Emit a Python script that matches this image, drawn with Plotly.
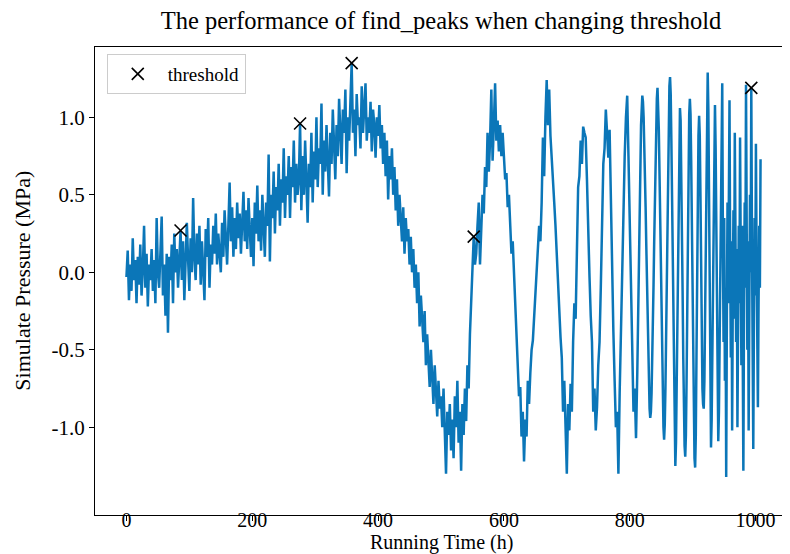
import plotly.graph_objects as go

# simulated pressure: every 2 h from 0 h to 818 h
pressure_coarse = [
    -0.03, 0.14, -0.18, 0.05, -0.12, 0.22, -0.05, 0.08, -0.2, 0.1,
    -0.08, 0.18, -0.15, 0.02, 0.3, -0.1, 0.12, -0.22, 0.05, -0.05,
    0.15, -0.12, 0.08, -0.2, 0.35, 0.0, -0.1, 0.22, 0.36, -0.15,
    0.05, -0.28, 0.12, -0.39, 0.1, -0.05, 0.18, -0.2, 0.25, 0.0,
    0.15, -0.1, 0.05, 0.27, -0.05, 0.2, -0.18, 0.1, 0.32, 0.08,
    -0.12, 0.22, 0.0, 0.48, 0.1, -0.05, 0.25, 0.05, 0.3, -0.08,
    0.2, 0.02, -0.18, 0.28, 0.1, 0.35, -0.1, 0.18, 0.05, 0.3,
    0.12, 0.38, 0.05, 0.25, 0.15, 0.0, 0.32, 0.1, 0.4, 0.18,
    0.05, 0.3, 0.58, 0.2, 0.42, 0.1, 0.35, 0.15, 0.45, 0.22,
    0.38, 0.12, 0.3, 0.52, 0.2, 0.4, 0.15, 0.48, 0.28, 0.1,
    0.35, 0.04, 0.45, 0.25, 0.56, 0.2, 0.4, 0.14, 0.5, 0.3,
    0.1, 0.45, 0.3, 0.76, 0.07, 0.5, 0.35, 0.65, 0.25, 0.55,
    0.4, 0.7, 0.3, 0.6, 0.45, 0.8, 0.35, 0.62, 0.5, 0.75,
    0.35, 0.68, 0.55, 0.85, 0.45, 0.7, 0.5, 0.6, 0.96, 0.4,
    0.75, 0.5, 0.85, 0.6, 0.32, 0.7, 0.55, 0.9, 0.45, 0.78,
    0.6, 1.0, 0.55, 0.8, 0.7, 1.09, 0.5, 0.85, 0.65, 0.95,
    0.75, 0.49, 0.9, 0.7, 1.05, 0.8, 0.6, 0.95, 0.75, 1.12,
    0.85, 0.7, 1.05, 0.9, 1.18, 0.64, 1.0, 0.85, 1.1, 1.35,
    0.9, 1.05, 0.75, 1.15, 0.95, 1.0, 0.8, 1.2, 0.9, 1.05,
    1.22, 0.85, 1.0, 0.9, 1.1, 0.78, 1.05, 0.95, 0.74, 1.0,
    0.88, 1.08, 0.8, 0.95, 0.7, 0.9, 0.62, 0.85, 0.47, 0.75,
    0.6, 0.8, 0.5, 0.68, 0.4, 0.6, 0.3, 0.5, 0.35, 0.2,
    0.42, 0.12, 0.35, 0.2, 0.28, 0.05, 0.23, 0.0, 0.15, -0.1,
    0.05, -0.2, 0.0, -0.35, -0.15, -0.3, -0.45, -0.25, -0.6, -0.4,
    -0.55, -0.74, -0.5, -0.65, -0.85, -0.6, -0.8, -0.93, -0.7, -0.88,
    -0.8, -1.0, -0.75, -1.1, -1.3, -0.9, -1.05, -0.85, -1.15, -0.95,
    -1.2, -0.8, -1.0, -0.7, -1.1, -0.9, -1.28, -0.85, -1.05, -0.75,
    -0.96, -0.6, -0.75, -0.4, -0.15, 0.0, 0.23, 0.05, 0.12, 0.3,
    0.45, 0.05, 0.35, 0.5, 0.38, 0.68, 0.55, 0.9, 0.65, 0.85,
    1.18, 0.72, 0.95, 1.22, 0.85, 0.98, 0.78, 0.95, 0.75, 0.9,
    0.75, 0.6, 0.64, 0.42, 0.5, 0.3, 0.12, 0.2, 0.0, -0.2,
    -0.44, -0.6, -0.8, -0.74, -1.06, -0.9, -1.22, -0.95, -1.06, -0.7,
    -0.85, -0.65, -0.5, -0.44, -0.3, -0.1, 0.0, 0.1, 0.3, 0.2,
    0.45, 0.87, 0.62, 1.0, 1.24, 0.95, 1.18, 0.88, 0.75, 0.64,
    0.45, 0.3, 0.1, -0.05, -0.2, -0.42, -0.55, -0.9, -0.7, -1.0,
    -1.3, -0.85, -1.02, -0.72, -0.9, -0.45, -0.2, -0.3, 0.2, 0.55,
    0.62, 0.85, 0.7, 0.94, 0.9, 0.87, 0.6, 0.2, -0.02, -0.28,
    -0.45, -0.9, -0.75, -1.02, -0.87, -0.6, -0.45, -0.1, 0.4, 0.7,
    0.8, 1.05, 0.9, 0.74, 0.92, 0.42, -0.05, -0.38, -0.7, -1.0,
    -0.9, -1.3, -0.78, -0.34, 0.0, 0.52, 0.75, 1.0, 1.14, 0.75,
    0.35, 0.0, -0.6, -0.9, -0.75, -1.07, -0.65, 0.0, 0.6, 0.95,
]

# denser sampling over the fast oscillation at the end (820 h onwards)
pressure_fine = [
    1.14, 1.1, 1.0, 0.85, 0.65, 0.42, 0.18, -0.08, -0.35, -0.58, -0.75, -0.88,
    -0.94, -0.9, -0.78, -0.6, -0.35, -0.08, 0.2, 0.48, 0.75, 0.95, 1.12, 1.19,
    1.1, 0.92, 0.65, 0.35, 0.02, -0.32, -0.62, -0.85, -1.0, -1.08,
    -0.98, -0.75, -0.42, -0.05, 0.35, 0.72, 1.0, 1.2, 1.26,
    1.15, 0.85, 0.45, 0.0, -0.45, -0.85, -1.12, -1.25,
    -1.1, -0.72, -0.25, 0.25, 0.68, 0.95, 1.06,
    0.98, 0.7, 0.3, -0.12, -0.55, -0.9, -1.12, -1.19,
    -1.05, -0.7, -0.2, 0.3, 0.75, 1.02, 1.12,
    1.02, 0.72, 0.3, -0.15, -0.6, -0.98, -1.2, -1.26,
    -1.05, -0.55, 0.0, 0.5, 0.88, 1.01,
    0.88, 0.5, 0.02, -0.45, -0.75, -0.85, -0.88,
    -0.7, -0.25, 0.3, 0.8, 1.15, 1.29,
    1.05, 0.5, -0.15, -0.75, -1.13,
    -0.95, -0.45, 0.1, 0.62, 0.98, 1.08,
    0.8, 0.25, -0.38, -0.88, -1.09,
    -0.9, -0.4, 0.2, 0.75, 1.1,
    1.22, 0.2, -0.45, 0.35, -0.7, -0.1, -1.32, -0.3, 0.45, -0.2,
    0.6, 1.11, 0.1, -0.55, 0.2, -1.02, -0.15, 0.4, -0.3, 0.9,
    0.25, -0.45, 0.15, -1.0, -0.35, 0.3, -0.2, 0.87, 0.1, -0.6,
    0.3, -0.5, -1.28, -0.2, 0.45, -0.1, 1.21, 0.3, -0.5, 0.2,
    -1.02, -0.25, 0.5, 0.0, 1.19, 0.2, -0.4, -1.14, -0.3, 0.35,
    -0.15, 0.83, 0.1, -0.5, -0.87, -0.2, 0.3, -0.1, 0.73,
]

hours_coarse = list(range(0, 2 * len(pressure_coarse), 2))
hours_fine = [round(820 + 1.05 * k, 2) for k in range(len(pressure_fine))]
hours = hours_coarse + hours_fine
pressure = pressure_coarse + pressure_fine

# sample indices where find_peaks reported a peak
peak_idx = [43, 138, 179, 276, 575]
peak_hours = [hours[i] for i in peak_idx]
peak_values = [pressure[i] for i in peak_idx]

y_ticks = [-1.0, -0.5, 0.0, 0.5, 1.0]
x_ticks = [0, 200, 400, 600, 800, 1000]

font = "Liberation Serif, Times New Roman, serif"

fig = go.Figure()
fig.add_trace(go.Scatter(
    x=hours, y=pressure, mode="lines", showlegend=False,
    line=dict(color="#0b76b8", width=2.5),
))
fig.add_trace(go.Scatter(
    x=peak_hours, y=peak_values, mode="markers", name="threshold",
    marker=dict(symbol="x-thin", size=12, line=dict(color="black", width=1.6)),
))

axis_style = dict(
    showline=True, mirror=True, linecolor="black", linewidth=1.3,
    ticks="outside", ticklen=5, tickcolor="black", showgrid=False, zeroline=False,
    automargin=False,
)

fig.update_xaxes(
    range=[-50, 1050], tickvals=x_ticks, ticklabelstandoff=-18,
    tickfont=dict(family=font, size=20, color="black"), **axis_style,
)
fig.update_yaxes(
    range=[-1.566, 1.454], tickvals=y_ticks,
    ticktext=[f"{v:.1f}" for v in y_ticks],
    tickfont=dict(family=font, size=21, color="black"), **axis_style,
)

fig.add_annotation(
    text="Running Time (h)", xref="paper", yref="paper", x=0.5, y=-0.058,
    xanchor="center", yanchor="middle", showarrow=False,
    font=dict(family=font, size=20, color="black"),
)
fig.add_annotation(
    text="Simulate Pressure (MPa)", xref="paper", yref="paper", x=-0.106, y=0.5,
    xanchor="center", yanchor="middle", textangle=-90, showarrow=False,
    font=dict(family=font, size=22, color="black"),
)

# the page body adds an 8 px offset, so the figure is 8 px smaller than the window
fig.update_layout(
    width=782, height=546,
    margin=dict(l=87, r=3, t=39, b=39),
    paper_bgcolor="white", plot_bgcolor="white",
    title=dict(
        text="The performance of find_peaks when changing threshold",
        xref="paper", x=0.5, xanchor="center", y=0.977, yanchor="middle",
        font=dict(family=font, size=24.5, color="black"),
    ),
    legend=dict(
        x=0.017, y=0.985, xanchor="left", yanchor="top", itemwidth=50,
        bgcolor="white", bordercolor="#cccccc", borderwidth=1,
        font=dict(family=font, size=19, color="black"),
    ),
)

fig.write_html("out.html")
